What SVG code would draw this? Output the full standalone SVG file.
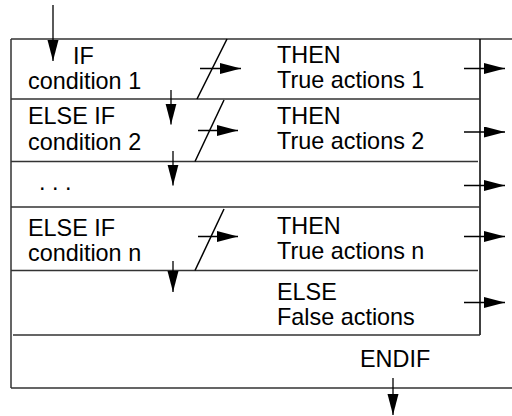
<svg xmlns="http://www.w3.org/2000/svg" width="512" height="416" viewBox="0 0 512 416">
<style>
.t{font-family:"Liberation Sans",Arial,sans-serif;font-size:23.4px;fill:#000}
.ln{stroke:#333;stroke-width:1.5;fill:none}
.v{stroke:#000;stroke-width:1.5;fill:none}
.a{stroke:#000;stroke-width:1.3;fill:none;marker-end:url(#ah)}
</style>
<defs>
<marker id="ah" markerUnits="userSpaceOnUse" markerWidth="22" markerHeight="12" refX="21" refY="5.5" orient="auto">
<path d="M0,0 L21,5.5 L0,11 z" fill="#000"/>
</marker>
</defs>
<rect width="512" height="416" fill="#fff"/>
<g id="frame">
<path class="ln" d="M11,39 H512 M11,388 H512 M11,39 V388"/>
<path class="v" d="M480,39 V335"/>
<path class="ln" d="M11,99 H480 M11,161.5 H478 M11,207 H480 M11,270.5 H478 M13,335 H480"/>
</g>
<g id="row1">
<text class="t" x="73" y="63.5">IF</text>
<text class="t" x="28" y="89">condition 1</text>
<text class="t" x="277" y="63">THEN</text>
<text class="t" x="277" y="88">True actions 1</text>
<path class="v" d="M197,99 L227,39"/>
</g>
<g id="row2">
<text class="t" x="28" y="123.5">ELSE IF</text>
<text class="t" x="28" y="149.5">condition 2</text>
<text class="t" x="277" y="123.5">THEN</text>
<text class="t" x="277" y="149">True actions 2</text>
<path class="v" d="M195,161.5 L224,100"/>
</g>
<g id="row3">
<text class="t" x="39" y="190">. . .</text>
</g>
<g id="row4">
<text class="t" x="28" y="235.5">ELSE IF</text>
<text class="t" x="28" y="261">condition n</text>
<text class="t" x="277" y="234">THEN</text>
<text class="t" x="277" y="259">True actions n</text>
<path class="v" d="M195,270.5 L224,209"/>
</g>
<g id="row5">
<text class="t" x="277" y="299.5">ELSE</text>
<text class="t" x="277" y="324.5">False actions</text>
</g>
<g id="endif">
<text class="t" x="360" y="367">ENDIF</text>
</g>
<g id="connectors">
<path class="a" d="M53,5 V61"/>
<path class="a" d="M200,68.5 H241"/>
<path class="a" d="M198,130.5 H238"/>
<path class="a" d="M198,236.5 H238"/>
<path class="a" d="M171,90 V124.5"/>
<path class="a" d="M173,151 V185.5"/>
<path class="a" d="M173,261 V292"/>
<path class="a" d="M464,68.5 H505"/>
<path class="a" d="M464,132 H505"/>
<path class="a" d="M464,185.5 H505"/>
<path class="a" d="M464,236.5 H505"/>
<path class="a" d="M464,302.5 H505"/>
<path class="a" d="M393,378 V415"/>
</g>
</svg>
